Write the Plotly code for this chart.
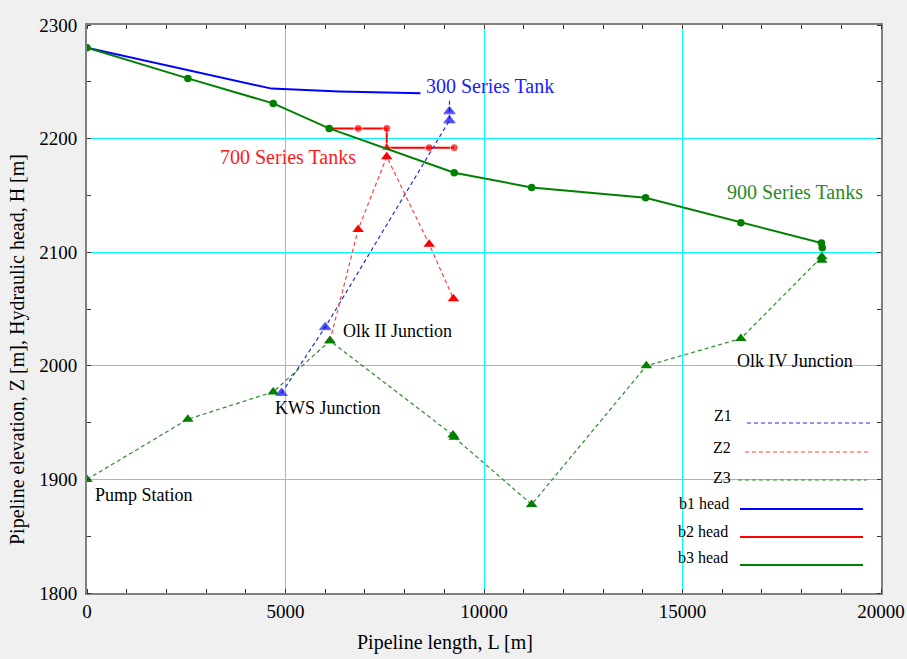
import plotly.graph_objects as go

# ---------------- data ----------------
# hydraulic heads
b1_L = [0, 4650, 6350, 8400]
b1_H = [2280, 2244, 2241.5, 2240]

b2_L = [6100, 6830, 7550, 7550, 8620, 9250]
b2_H = [2209, 2209, 2209, 2192, 2192, 2192]

b3_L = [0, 2540, 4690, 6100, 9250, 11200, 14070, 16470, 18500, 18520]
b3_H = [2280, 2253, 2231, 2209, 2170, 2157, 2148, 2126, 2108, 2104]

# pipeline elevations
z1_L = [4900, 6000, 9130, 9130, 9130]
z1_Z = [1976, 2034, 2216, 2224, 2235]

z2_L = [6120, 6830, 7550, 8620, 9230]
z2_Z = [2022, 2120, 2184, 2107, 2059]

z3_L = [0, 2540, 4690, 6120, 9220, 9250, 11200, 14090, 16470, 18510, 18510]
z3_Z = [1900, 1953, 1977, 2022, 1939, 1937, 1878, 2000, 2024, 2096, 2093]

# labels
label_text = ["300 Series Tank", "700 Series Tanks", "900 Series Tanks",
              "Olk II Junction", "KWS Junction", "Pump Station", "Olk IV Junction"]
label_L = [8490, 3310, 16070, 6390, 4680, 140, 16320]
label_H = [2246, 2184, 2153, 2031, 1963, 1886, 2004.5]

legend_names = ["Z1", "Z2", "Z3", "b1 head", "b2 head", "b3 head"]

x_ticks = [0, 5000, 10000, 15000, 20000]
y_ticks = [1800, 1900, 2000, 2100, 2200, 2300]

# ---------------- style ----------------
FONT = "Liberation Serif"
BLUE, RED, GREEN = "#0000ff", "#ff0000", "#008000"
ZBLUE, ZRED, ZGREEN = "#2a2ad8", "#ff4040", "#2e8b2e"
label_colors = ["#2020ff", "#ff1a1a", "#2a8a2a", "black", "black", "black", "black"]
label_sizes = [20, 20, 20, 18, 18, 18, 18]
DASH = "4px,3px"

fig = go.Figure()

# heads
fig.add_trace(go.Scatter(x=b1_L, y=b1_H, mode="lines", line=dict(color=BLUE, width=2),
                         name="b1 head", showlegend=False))
b2_sym = ["circle"] * len(b2_L)
b2_sym[3] = "triangle-up"
b2_size = [8] * len(b2_L)
b2_size[0] = 0
b2_size[3] = 10
fig.add_trace(go.Scatter(x=b2_L, y=b2_H, mode="lines+markers", line=dict(color=RED, width=2),
                         marker=dict(color=RED, size=b2_size, symbol=b2_sym),
                         name="b2 head", showlegend=False))
fig.add_trace(go.Scatter(x=b3_L, y=b3_H, mode="lines+markers", line=dict(color=GREEN, width=2),
                         marker=dict(color=GREEN, size=7.5, symbol="circle"),
                         name="b3 head", showlegend=False))

# elevations
z1_size = [10] * len(z1_L)
z1_size[-1] = 0
fig.add_trace(go.Scatter(x=z1_L, y=z1_Z, mode="lines+markers",
                         line=dict(color=ZBLUE, width=1.2, dash=DASH),
                         marker=dict(color=BLUE, size=z1_size, symbol="triangle-up"),
                         name="Z1", showlegend=False))
fig.add_trace(go.Scatter(x=z2_L, y=z2_Z, mode="lines+markers",
                         line=dict(color=ZRED, width=1.2, dash=DASH),
                         marker=dict(color=RED, size=10, symbol="triangle-up"),
                         name="Z2", showlegend=False))
fig.add_trace(go.Scatter(x=z3_L, y=z3_Z, mode="lines+markers",
                         line=dict(color=ZGREEN, width=1.2, dash=DASH),
                         marker=dict(color=GREEN, size=10, symbol="triangle-up"),
                         name="Z3", showlegend=False))

# text labels
for t, lx, ly, c, s in zip(label_text, label_L, label_H, label_colors, label_sizes):
    fig.add_annotation(x=lx, y=ly, xref="x", yref="y", text=t, showarrow=False,
                       xanchor="left", yanchor="middle",
                       font=dict(family=FONT, size=s, color=c))

# custom legend (label left of sample line)
L0, R0, B0, T0 = 87, 881, 593, 25
def px(xp):
    return (xp - L0) / (R0 - L0)
def py(yp):
    return (B0 - yp) / (B0 - T0)

leg_line_y = [423, 452, 480, 509, 537, 565]
leg_text_y = [415, 447, 477, 504, 531, 557]
leg_text_r = [734, 733, 733, 731, 730, 730]
leg_line_x0 = [747, 745, 738, 740, 740, 740]
leg_line_x1 = [870, 869, 867, 863, 863, 863]
leg_colors = [ZBLUE, ZRED, ZGREEN, BLUE, RED, GREEN]
leg_dash = [DASH, DASH, DASH, "solid", "solid", "solid"]
leg_width = [1.2, 1.2, 1.2, 2, 2, 2]
for name, ly, ty, tr, x0, x1, c, d, w in zip(legend_names, leg_line_y, leg_text_y, leg_text_r,
                                             leg_line_x0, leg_line_x1, leg_colors, leg_dash, leg_width):
    fig.add_shape(type="line", xref="paper", yref="paper", x0=px(x0), x1=px(x1),
                  y0=py(ly), y1=py(ly), line=dict(color=c, width=w, dash=d))
    fig.add_annotation(xref="paper", yref="paper", x=px(tr), y=py(ty), text=name,
                       showarrow=False, xanchor="right", yanchor="middle",
                       font=dict(family=FONT, size=16, color="black"))

# axis titles as annotations
fig.add_annotation(xref="paper", yref="paper", x=px(445), y=py(642), text="Pipeline length, L [m]",
                   showarrow=False, xanchor="center", yanchor="middle",
                   font=dict(family=FONT, size=20, color="black"))
fig.add_annotation(xref="paper", yref="paper", x=px(17), y=py(350),
                   text="Pipeline elevation, Z [m], Hydraulic head, H [m]",
                   showarrow=False, xanchor="center", yanchor="middle", textangle=-90,
                   font=dict(family=FONT, size=20, color="black"))

axis_common = dict(showline=True, linecolor="#808080", linewidth=2, mirror="allticks",
                   showgrid=True, gridcolor="#00ffff", gridwidth=1, zeroline=False,
                   ticks="", tickfont=dict(family=FONT, size=19, color="black"))

fig.update_xaxes(range=[0, 20000], tickvals=x_ticks, ticktext=[str(v) for v in x_ticks],
                 minor=dict(dtick=1000, ticks="inside", ticklen=4, tickcolor="#333333",
                            showgrid=False),
                 **axis_common)
fig.update_yaxes(range=[1800, 2300], tickvals=y_ticks, ticktext=[str(v) for v in y_ticks],
                 minor=dict(dtick=50, ticks="inside", ticklen=4, tickcolor="#333333",
                            showgrid=False),
                 ticklabelstandoff=4,
                 **axis_common)

fig.update_layout(width=907, height=659, autosize=False,
                  margin=dict(l=87, r=26, t=25, b=66, autoexpand=False),
                  paper_bgcolor="#f0f0f0", plot_bgcolor="white", showlegend=False,
                  font=dict(family=FONT, color="black"))

fig.write_html("out.html", config={"responsive": False})
